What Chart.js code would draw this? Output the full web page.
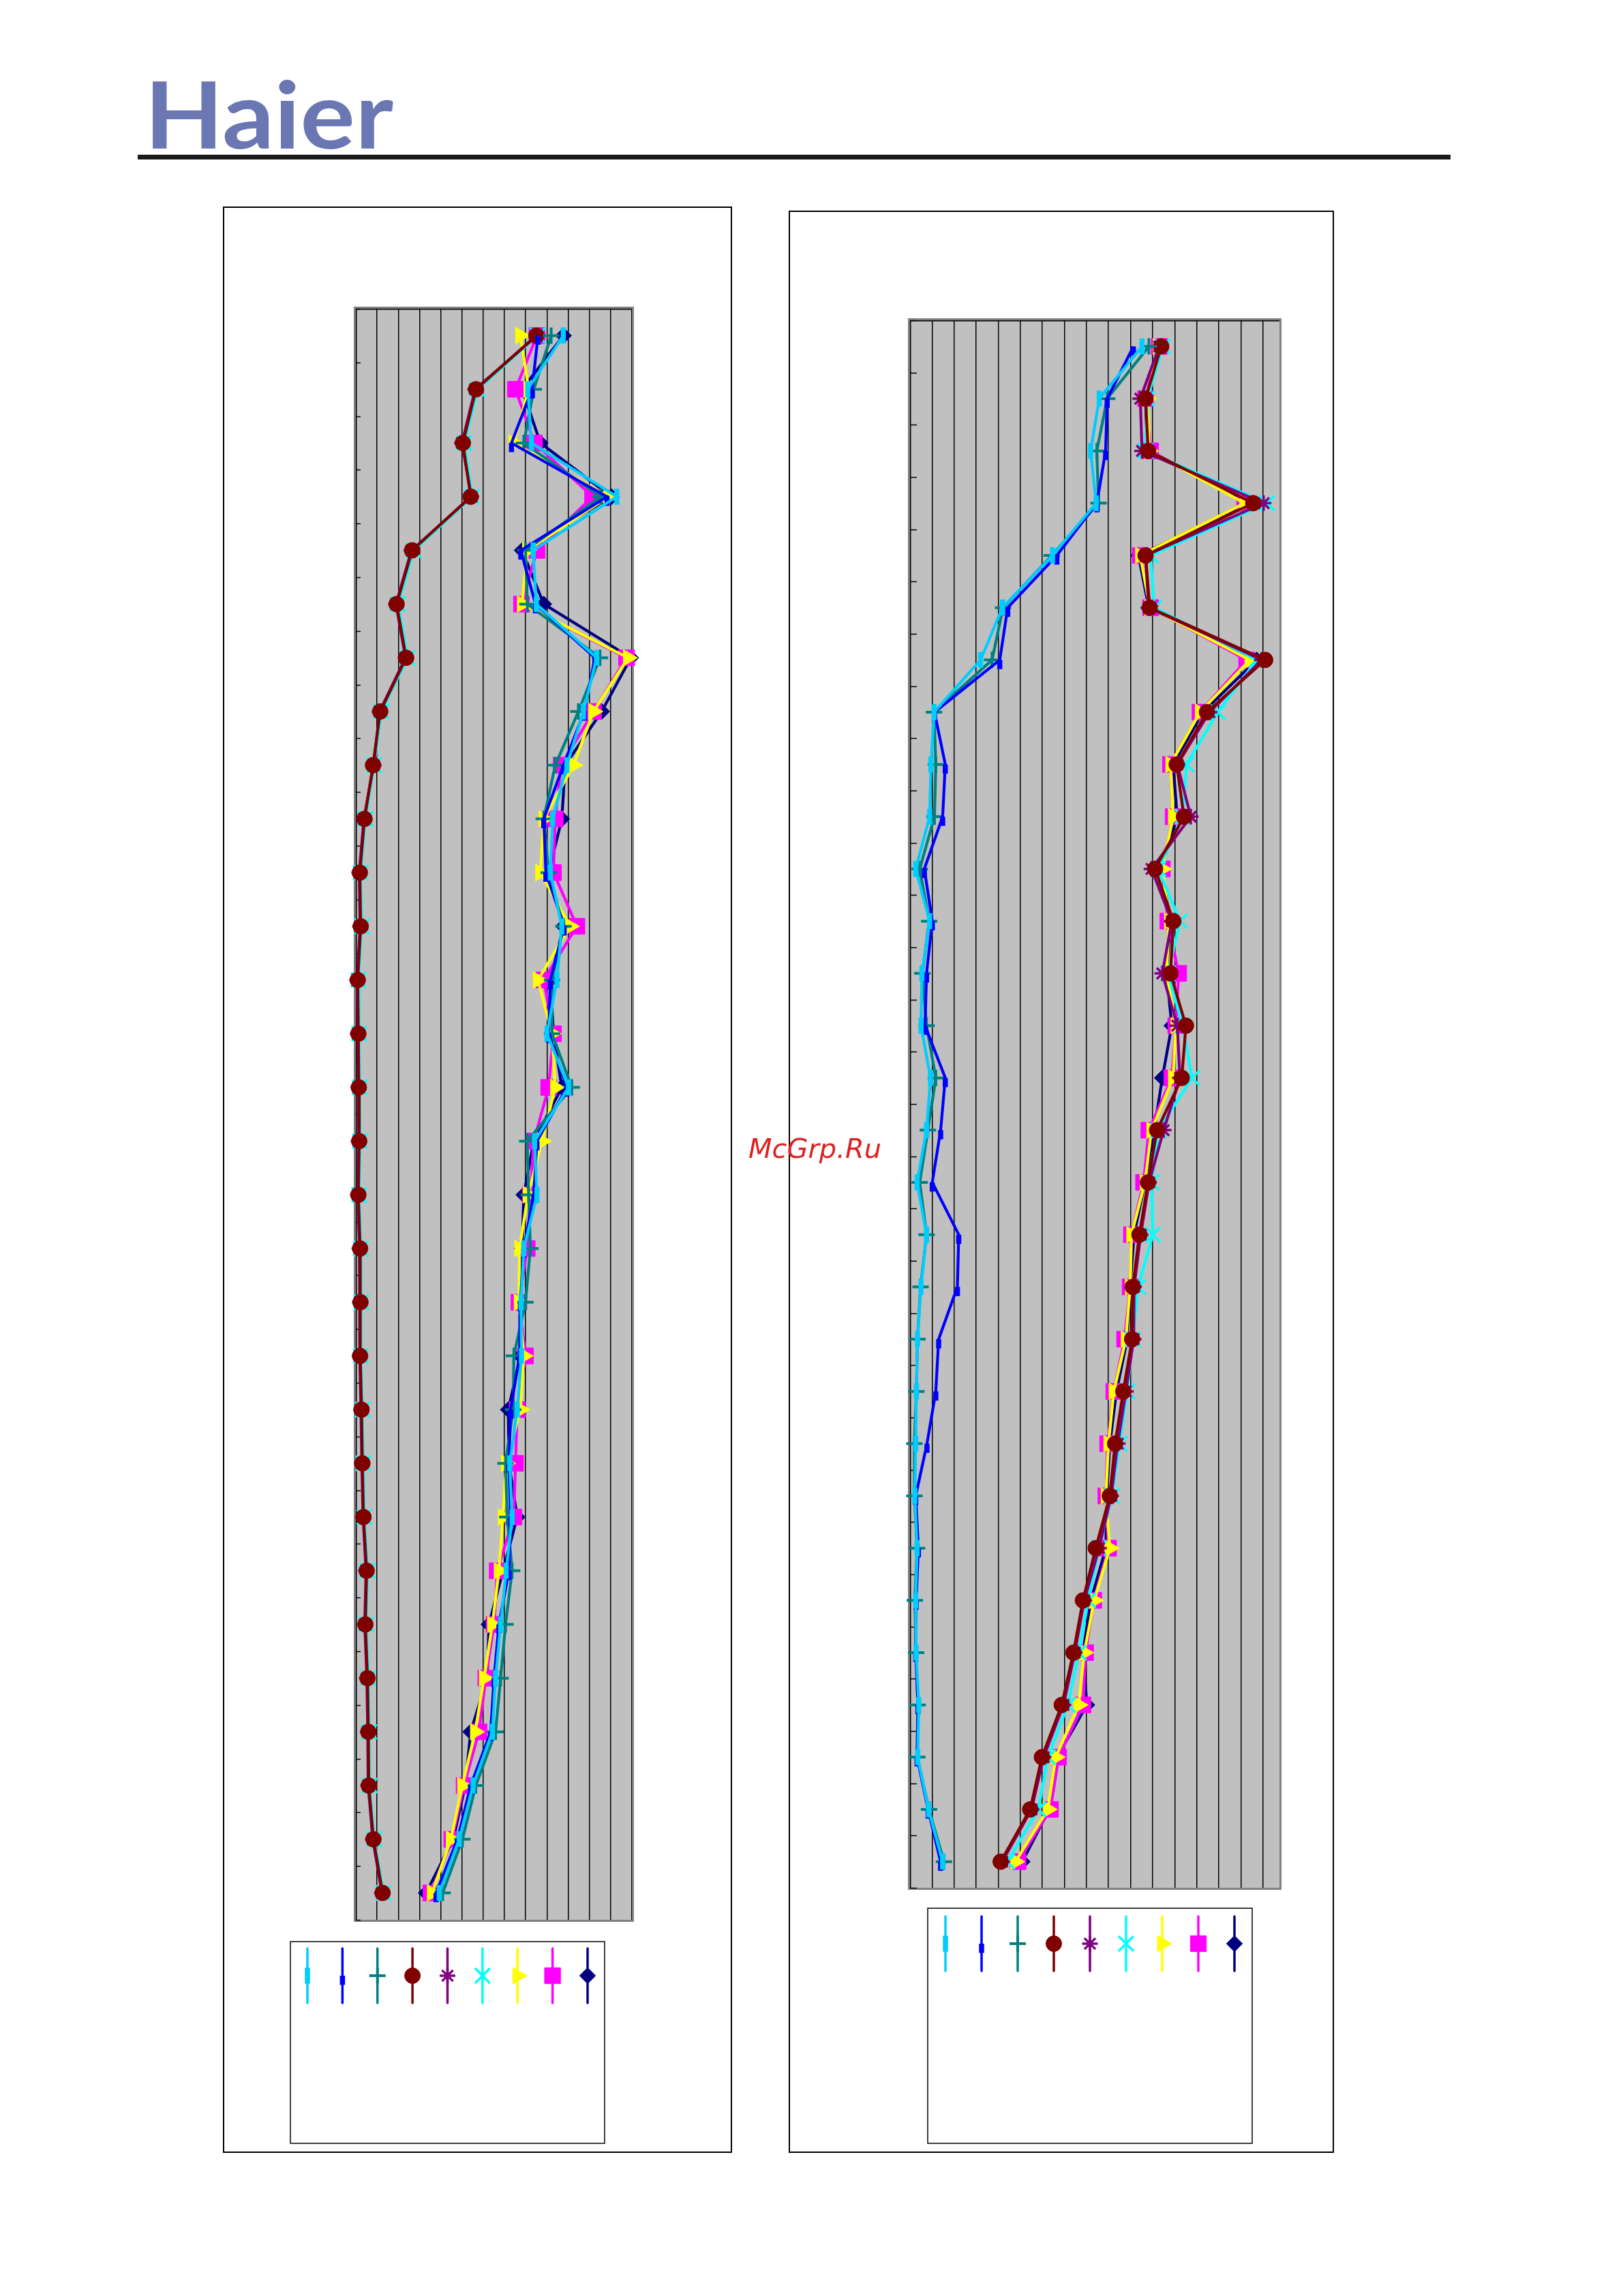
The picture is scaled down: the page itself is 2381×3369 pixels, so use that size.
<!DOCTYPE html>
<html>
<head>
<meta charset="utf-8">
<script src="https://cdn.jsdelivr.net/npm/chart.js@4/dist/chart.umd.min.js"></script>
<style>
  html, body { margin: 0; padding: 0; background: #fff; }
  #page { position: relative; width: 2381px; height: 3369px; overflow: hidden; background: #fff; }
  .holder { position: absolute; }
  .box { position: absolute; border: 2px solid #000; box-sizing: border-box; pointer-events: none; }
  svg.overlay { position: absolute; left: 0; top: 0; }
</style>
</head>
<body>
<div id="page">
  <svg class="overlay" width="2381" height="3369" style="z-index:0">
    <text x="212" y="218" font-family="Lato, 'Open Sans', sans-serif" font-weight="bold" font-size="136" fill="#6A77B3" textLength="365" lengthAdjust="spacingAndGlyphs">Haier</text>
    <rect x="202" y="227" width="1926" height="7" fill="#1a1a1a"></rect>
  </svg>
  <div class="holder" style="left:327px;top:303px;width:746px;height:2855px;"><canvas id="chartA"></canvas></div>
  <div class="holder" style="left:1158px;top:309px;width:798px;height:2849px;"><canvas id="chartB"></canvas></div>
  <div class="box" style="left:327px;top:303px;width:747px;height:2856px;"></div>
  <div class="box" style="left:1157px;top:309px;width:800px;height:2850px;"></div>
  <svg class="overlay" width="2381" height="3369" style="z-index:5;pointer-events:none">
    <text x="1098" y="1699" font-family="'DejaVu Sans', sans-serif" font-style="oblique" font-size="39" fill="#DD2222" textLength="195" lengthAdjust="spacingAndGlyphs">McGrp.Ru</text>
  </svg>
</div>
<script>
// ---------- data ----------
const BANDS = ['1','2','3','4','5','6','7','8','9','10','11','12','13','14','15',
               '16','17','18','19','20','21','22','23','24','25','26','27','28','29','30'];

// Left chart (A)
const A_lightblue = [97.7, 81.0, 82.7, 122.9, 83.5, 85.0, 113.4, 107.2, 99.4, 92.7, 91.6, 97.0, 94.7, 90.0, 100.2, 84.2, 85.3, 79.1, 77.8, 78.0, 76.0, 72.5, 73.6, 70.8, 68.2, 65.8, 64.3, 55.2, 48.7, 39.3];
const A_blue      = [85.8, 83.0, 73.3, 118.3, 77.7, 84.6, 112.6, 107.6, 97.8, 88.5, 89.5, 98.1, 91.6, 90.8, 99.4, 85.3, 83.8, 79.1, 77.5, 77.1, 72.9, 72.1, 72.9, 72.1, 67.4, 65.1, 63.5, 54.1, 47.9, 37.8];
const A_teal      = [92.0, 83.8, 79.1, 115.3, 79.9, 80.8, 115.0, 104.8, 93.9, 88.5, 90.8, 97.8, 92.4, 92.4, 101.7, 80.7, 81.4, 82.2, 79.9, 74.4, 74.1, 70.5, 71.3, 73.6, 70.5, 68.2, 65.8, 56.5, 50.2, 40.9];
const A_maroon    = [85.0, 56.6, 50.4, 54.1, 26.5, 19.2, 23.7, 11.5, 8.1, 4.1, 1.9, 2.3, 0.9, 1.2, 1.4, 1.6, 1.2, 2.0, 2.2, 2.0, 2.7, 3.1, 3.6, 5.1, 4.5, 5.5, 5.9, 6.1, 8.3, 12.6];
const A_purple    = [85.3, 56.2, 50.0, 54.4, 26.2, 18.9, 23.4, 11.2, 8.4, 3.8, 1.6, 2.0, 0.6, 0.9, 1.2, 1.3, 1.0, 1.7, 1.9, 1.8, 2.4, 2.8, 3.4, 4.8, 4.2, 5.2, 5.6, 5.8, 8.0, 12.3];
const A_cyan      = [85.6, 57.4, 51.0, 54.8, 27.3, 19.9, 24.4, 12.0, 8.6, 4.5, 2.3, 2.8, 1.3, 1.6, 1.8, 2.0, 1.6, 2.4, 2.6, 2.4, 3.1, 3.5, 4.0, 5.5, 4.9, 5.9, 6.3, 6.5, 8.7, 13.0];
const A_yellow    = [77.5, 81.4, 74.4, 118.9, 80.7, 78.3, 128.2, 111.9, 102.5, 88.5, 86.9, 100.9, 85.8, 92.4, 93.9, 87.7, 81.1, 77.1, 76.8, 79.1, 77.5, 70.8, 69.3, 67.4, 64.3, 60.4, 56.2, 50.2, 44.8, 35.9];
const A_magenta   = [85.3, 75.2, 84.1, 111.5, 85.3, 78.0, 127.5, 111.9, 96.7, 93.9, 93.1, 104.1, 88.5, 93.1, 90.8, 83.8, 82.2, 80.7, 76.8, 79.9, 76.0, 75.2, 74.4, 66.6, 65.1, 61.2, 58.0, 51.0, 45.2, 35.4];
const A_navy      = [97.8, 78.3, 86.9, 120.4, 78.3, 88.5, 129.5, 115.8, 98.6, 97.0, 90.8, 97.8, 91.6, 93.1, 97.0, 83.8, 79.1, 78.3, 77.1, 77.5, 71.8, 72.1, 76.0, 69.3, 62.7, 61.9, 54.1, 51.5, 45.9, 33.1];

// Right chart (B)
const B_lightblue = [105.2, 85.8, 81.9, 84.4, 64.6, 41.9, 32.0, 10.9, 9.5, 8.9, 2.6, 8.9, 5.4, 5.0, 9.3, 7.5, 3.2, 7.5, 5.0, 3.4, 2.9, 2.6, 2.2, 3.2, 2.6, 2.8, 4.0, 3.5, 8.4, 14.8];
const B_blue      = [101.3, 89.4, 88.7, 84.7, 66.6, 44.3, 40.7, 11.1, 16.0, 14.8, 6.5, 10.1, 7.5, 6.8, 16.0, 13.9, 10.1, 22.1, 21.5, 13.0, 11.7, 7.7, 2.6, 3.8, 2.8, 2.6, 3.6, 3.2, 8.2, 13.9];
const B_teal      = [108.3, 89.4, 84.7, 85.5, 64.3, 42.2, 37.2, 10.9, 11.7, 11.1, 4.4, 8.7, 5.6, 7.5, 11.7, 8.1, 4.4, 7.5, 4.8, 3.4, 2.9, 2.0, 2.0, 3.2, 2.2, 2.8, 3.5, 3.3, 8.6, 15.4];
const B_maroon    = [113.9, 106.8, 108.0, 155.6, 106.8, 108.7, 161.0, 134.6, 120.9, 124.2, 111.1, 119.4, 118.1, 125.1, 123.2, 112.0, 107.9, 104.0, 101.0, 100.7, 96.7, 93.0, 90.6, 84.2, 78.4, 74.1, 68.8, 59.8, 54.5, 41.1];
const B_purple    = [113.0, 104.4, 105.2, 160.3, 106.8, 108.2, 159.5, 135.8, 121.2, 127.3, 109.5, 118.7, 114.4, 121.2, 122.4, 115.0, 108.4, 104.6, 101.6, 101.4, 97.9, 94.2, 91.2, 85.7, 79.0, 74.7, 69.6, 60.6, 55.1, 41.8];
const B_cyan      = [114.6, 107.6, 106.8, 161.9, 109.1, 110.7, 157.2, 139.5, 125.4, 123.6, 112.6, 122.4, 116.9, 123.6, 127.9, 112.6, 109.5, 110.1, 103.4, 101.0, 98.5, 95.0, 91.5, 85.7, 80.8, 76.5, 71.6, 62.5, 58.2, 44.1];
const B_yellow    = [112.5, 107.6, 108.5, 151.7, 104.4, 108.7, 154.0, 131.5, 118.1, 119.3, 114.4, 117.5, 116.3, 120.5, 119.3, 109.5, 106.5, 100.4, 99.8, 97.9, 92.4, 90.0, 88.8, 90.6, 83.5, 79.0, 76.5, 66.1, 62.5, 47.8];
const B_magenta   = [113.0, 106.8, 109.1, 151.7, 104.4, 109.1, 152.6, 131.5, 118.1, 119.3, 114.4, 116.9, 121.8, 120.5, 118.7, 108.3, 105.9, 100.4, 99.8, 97.3, 92.4, 89.6, 88.8, 90.0, 83.3, 79.6, 78.4, 67.4, 63.7, 49.0];
const B_navy      = [113.0, 106.8, 107.6, 154.0, 103.6, 108.2, 157.2, 132.8, 119.3, 121.1, 113.8, 118.1, 116.3, 118.7, 114.4, 110.7, 106.5, 101.6, 99.8, 98.5, 93.6, 90.6, 89.2, 88.8, 82.0, 78.4, 80.2, 66.7, 63.1, 50.9];

// ---------- styles ----------
const SERIES_STYLE = [
  { color: '#00CCFF', style: 'line',     radius: 11.7, rotation: 90, bw: 7.5 },
  { color: '#0000FF', style: 'dash',     radius: 13.5, rotation: 90, bw: 7.5 },
  { color: '#008080', style: 'cross',    radius: 12,   rotation: 0,  bw: 4 },
  { color: '#800000', style: 'circle',   radius: 11.5, rotation: 0,  bw: 1 },
  { color: '#800080', style: 'star',     radius: 11.5, rotation: 0,  bw: 3.5 },
  { color: '#00FFFF', style: 'crossRot', radius: 15.5, rotation: 0,  bw: 3.5 },
  { color: '#FFFF00', style: 'triangle', radius: 14,   rotation: 90, bw: 1 },
  { color: '#FF00FF', style: 'rect',     radius: 16.5, rotation: 0,  bw: 1 },
  { color: '#000080', style: 'rectRot',  radius: 11.7, rotation: 0,  bw: 1 }
];
const LINE_WIDTH = 4.2;

const framePlugin = {
  id: 'frame',
  beforeDraw(chart, args, opts) {
    const { ctx, chartArea: a } = chart;
    ctx.save();
    ctx.fillStyle = '#C0C0C0';
    ctx.fillRect(a.left, a.top, a.right - a.left, a.bottom - a.top);
    ctx.restore();
  },
  beforeDatasetsDraw(chart, args, opts) {
    const { ctx, chartArea: a } = chart;
    const ys = chart.scales.y;
    ctx.save();
    ctx.strokeStyle = '#808080';
    ctx.lineWidth = 3;
    ctx.strokeRect(a.left - 1.5, a.top - 1.5, a.right - a.left + 3, a.bottom - a.top + 3);
    ctx.strokeStyle = '#000';
    ctx.lineWidth = 1.5;
    ctx.beginPath();
    ctx.moveTo(a.left + 0.75, a.bottom);
    ctx.lineTo(a.left + 0.75, a.top + 0.75);
    ctx.lineTo(a.right, a.top + 0.75);
    ctx.stroke();
    // inward tick marks on the category axis, at band boundaries
    const n = chart.data.labels.length;
    const half = (ys.getPixelForValue(1) - ys.getPixelForValue(0)) / 2;
    ctx.beginPath();
    for (let k = 0; k <= n; k++) {
      const y = Math.round(ys.getPixelForValue(k) - half) + 0.5;
      ctx.moveTo(a.left, y);
      ctx.lineTo(a.left + opts.tickLen, y);
    }
    ctx.stroke();
    ctx.restore();
  },
  afterDraw(chart, args, opts) {
    const { ctx } = chart;
    const L = opts.legend;
    ctx.save();
    ctx.strokeStyle = '#000';
    ctx.lineWidth = 1.5;
    ctx.strokeRect(L.x, L.y, L.w, L.h);
    const n = chart.data.datasets.length;
    const step = (L.w - 2 * L.pad) / (n - 1);
    chart.data.datasets.forEach((ds, i) => {
      const x = L.x + L.pad + i * step;
      ctx.strokeStyle = ds.borderColor;
      ctx.lineWidth = 3.5;
      ctx.lineCap = 'round';
      ctx.beginPath();
      ctx.moveTo(x, L.y + L.lineTop);
      ctx.lineTo(x, L.y + L.lineTop + L.lineLen);
      ctx.stroke();
      ctx.lineCap = 'butt';
      ctx.fillStyle = ds.pointBackgroundColor;
      ctx.strokeStyle = ds.pointBorderColor;
      ctx.lineWidth = ds.pointBorderWidth;
      Chart.helpers.drawPoint(ctx, {
        pointStyle: ds.pointStyle, rotation: ds.pointRotation,
        radius: ds.pointRadius, borderWidth: ds.pointBorderWidth
      }, x, L.y + L.lineTop + L.lineLen / 2);
    });
    ctx.restore();
  }
};

function makeChart(id, series, cfg) {
  const datasets = SERIES_STYLE.map((s, i) => ({
    label: 'S' + (i + 1),
    data: series[i],
    borderColor: s.color,
    backgroundColor: s.color,
    borderWidth: LINE_WIDTH,
    tension: 0,
    clip: false,
    pointStyle: s.style,
    pointRadius: s.radius,
    pointRotation: s.rotation,
    pointBorderWidth: s.bw,
    pointBackgroundColor: s.color,
    pointBorderColor: s.color
  }));
  return new Chart(document.getElementById(id), {
    type: 'line',
    data: { labels: BANDS, datasets },
    options: {
      indexAxis: 'y',
      responsive: true,
      maintainAspectRatio: false,
      animation: false,
      events: [],
      layout: { padding: cfg.padding },
      plugins: {
        legend: { display: false },
        tooltip: { enabled: false },
        frame: { tickLen: cfg.tickLen, legend: cfg.legend }
      },
      scales: {
        x: {
          type: 'linear', position: 'top', min: 0, max: cfg.xMax,
          ticks: { display: false, stepSize: 10, includeBounds: false },
          grid: { color: '#000', lineWidth: 1.5, drawTicks: false },
          border: { display: false },
          afterFit(s) { s.height = 0; }
        },
        y: {
          type: 'category', offset: true,
          ticks: { display: false },
          grid: { display: false, drawTicks: false },
          border: { display: false },
          afterFit(s) { s.width = 0; }
        }
      }
    },
    plugins: [framePlugin]
  });
}

makeChart('chartA',
  [A_lightblue, A_blue, A_teal, A_maroon, A_purple, A_cyan, A_yellow, A_magenta, A_navy],
  { xMax: 130, tickLen: 7,
    padding: { left: 195, top: 150, right: 146, bottom: 341 },
    legend: { x: 99, y: 2546, w: 461, h: 296, pad: 25, lineTop: 10, lineLen: 80 } });

makeChart('chartB',
  [B_lightblue, B_blue, B_teal, B_maroon, B_purple, B_cyan, B_yellow, B_magenta, B_navy],
  { xMax: 167.5, tickLen: 10,
    padding: { left: 177, top: 161, right: 79, bottom: 388 },
    legend: { x: 203, y: 2491, w: 476, h: 345, pad: 26, lineTop: 12, lineLen: 80 } });
</script>
</body>
</html>
